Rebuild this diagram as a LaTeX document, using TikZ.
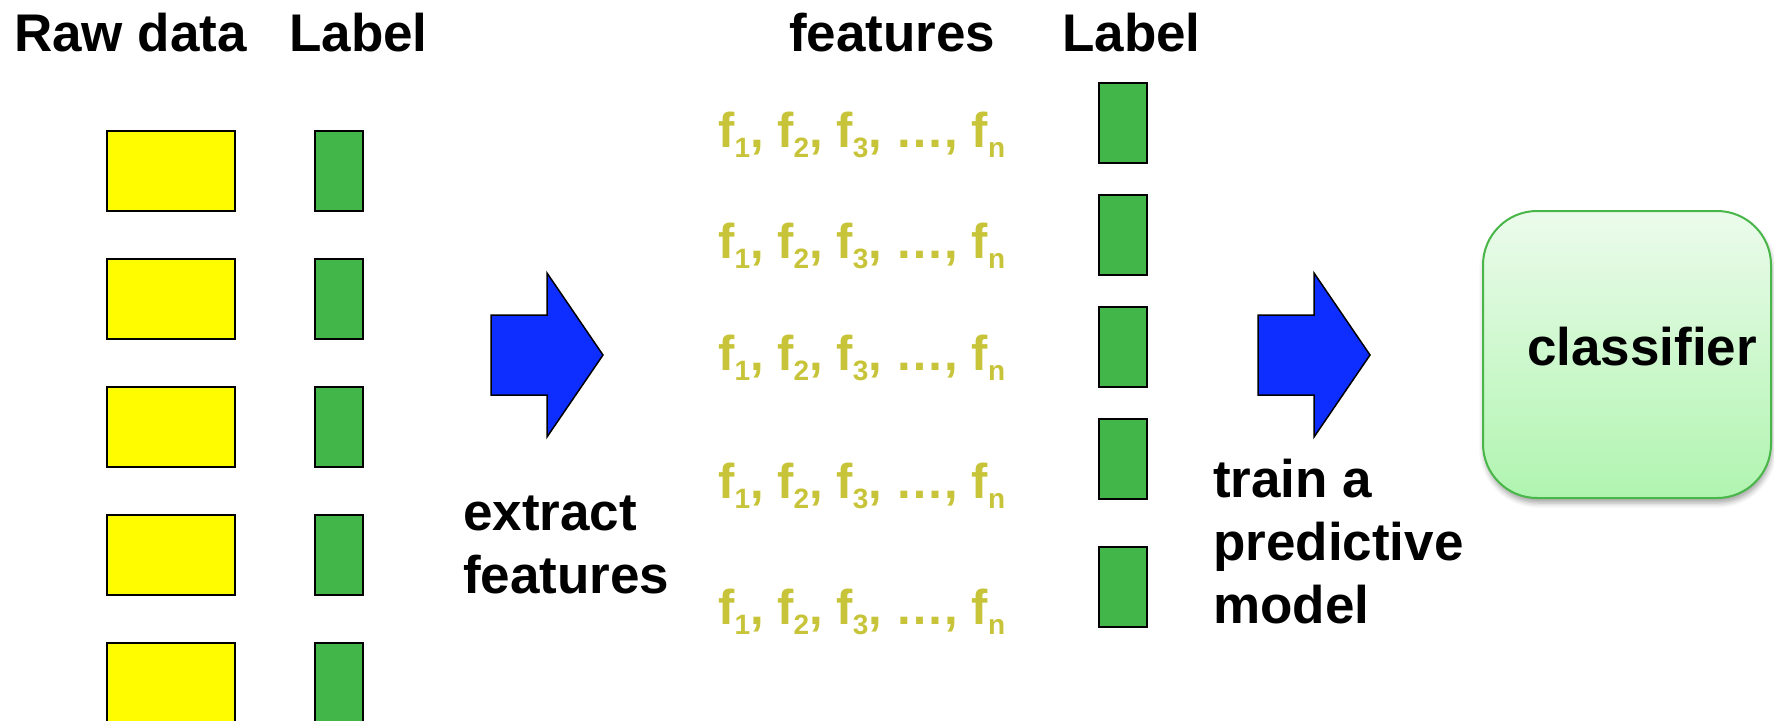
\documentclass[tikz,border=0pt]{standalone}
\usepackage{fontspec}
\setmainfont{Liberation Sans}
\usetikzlibrary{shadows.blur}

\definecolor{rawyellow}{RGB}{255,252,0}
\definecolor{labelgreen}{RGB}{67,182,73}
\definecolor{arrowblue}{RGB}{13,46,255}
\definecolor{featolive}{RGB}{199,196,58}
\definecolor{clftop}{RGB}{236,251,236}
\definecolor{clfbottom}{RGB}{176,244,176}
\definecolor{clfborder}{RGB}{72,182,72}

% lowered subscript used in the feature rows
\newcommand{\fsub}[1]{\raisebox{-10pt}{\fontsize{28}{28}\selectfont #1}}
\newcommand{\featrow}{f\fsub{1}, f\fsub{2}, f\fsub{3}, …, f\fsub{n}}

\begin{document}
\begin{tikzpicture}[x=1pt,y=-1pt,
  rawbox/.style={draw=black, line width=2pt, fill=rawyellow,
    minimum width=128pt, minimum height=80pt, inner sep=0pt},
  labbox/.style={draw=black, line width=2pt, fill=labelgreen,
    minimum width=48pt, minimum height=80pt, inner sep=0pt},
  bigtext/.style={anchor=base west, inner sep=0pt,
    font=\fontsize{53}{63}\selectfont\bfseries},
  feattext/.style={anchor=base west, inner sep=0pt, text=featolive,
    font=\fontsize{49}{56}\selectfont\bfseries},
  blockarrow/.style={draw=black, line width=1.5pt, fill=arrowblue, line join=miter},
  clfbox/.style={draw=clfborder, line width=2pt, rounded corners=54pt,
    top color=clftop, bottom color=clfbottom,
    minimum width=288pt, minimum height=287pt, inner sep=0pt,
    blur shadow={shadow xshift=1pt, shadow yshift=-5pt,
      shadow blur radius=5pt, shadow opacity=35}}
]
\clip (0,0) rectangle (1774,720);

% column headings
\node[bigtext] (hraw)  at (14,51)   {Raw data};
\node[bigtext] (hlab1) at (289,51)  {Label};
\node[bigtext] (hfeat) at (789,51)  {features};
\node[bigtext] (hlab2) at (1062,51) {Label};

% raw data items and their labels
\foreach \i/\y in {1/171,2/299,3/427,4/555,5/683} {
  \node[rawbox] (raw\i) at (171,\y) {};
  \node[labbox] (lab\i) at (339,\y) {};
}

% feature extraction arrow
\draw[blockarrow] (491,315) -- (547,315) -- (547,273) -- (603,355)
  -- (547,437) -- (547,395) -- (491,395) -- cycle;
\node[bigtext] (ext1) at (463,530) {extract};
\node[bigtext] (ext2) at (463,593) {features};

% feature vectors and their labels
\foreach \i/\b/\c in {1/147/123,2/258/235,3/370/347,4/498/459,5/624/587} {
  \node[feattext] (feat\i) at (718,\b) {\featrow};
  \node[labbox] (flab\i) at (1123,\c) {};
}

% training arrow
\draw[blockarrow] (1258,315) -- (1314,315) -- (1314,273) -- (1370,355)
  -- (1314,437) -- (1314,395) -- (1258,395) -- cycle;
\node[bigtext] (tr1) at (1213,497) {train a};
\node[bigtext] (tr2) at (1213,560) {predictive};
\node[bigtext] (tr3) at (1213,623) {model};

% resulting classifier
\node[clfbox] (clf) at (1627,354.5) {};
\node[bigtext] (clflabel) at (1527,365) {classifier};
\end{tikzpicture}
\end{document}
